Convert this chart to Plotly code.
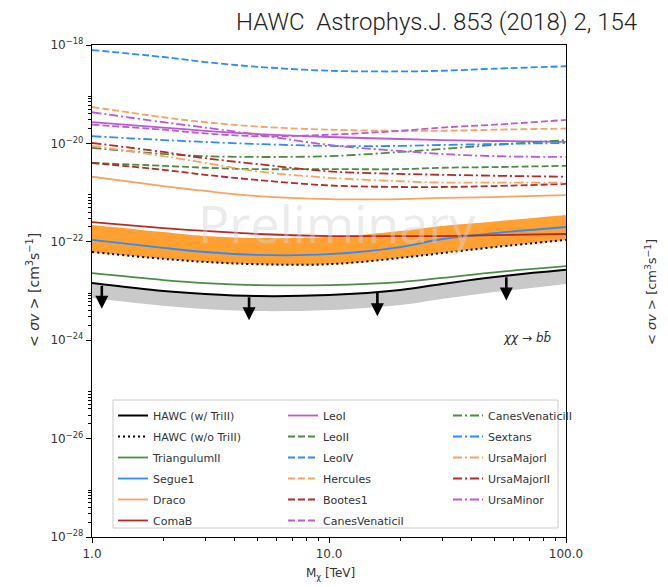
import numpy as np
import plotly.graph_objects as go

# ---------------- data ----------------
mass = [1, 2, 3, 5, 10, 20, 30, 50, 100]  # TeV

hawc_with_trill = [1.45e-23, 1.0e-23, 8.7e-24, 7.9e-24, 8.3e-24, 1.05e-23, 1.39e-23, 1.93e-23, 2.7e-23]
hawc_with_trill_low = [7.2e-24, 5.0e-24, 4.3e-24, 3.9e-24, 4.1e-24, 5.2e-24, 6.9e-24, 9.5e-24, 1.39e-23]
hawc_without_trill = [6.2e-23, 4.5e-23, 3.9e-23, 3.5e-23, 3.5e-23, 4.7e-23, 5.9e-23, 7.8e-23, 1.09e-22]
hawc_without_trill_high = [2.2e-22, 1.58e-22, 1.31e-22, 1.19e-22, 1.25e-22, 1.66e-22, 2.1e-22, 2.6e-22, 3.5e-22]
triangulum_ii = [2.3e-23, 1.67e-23, 1.45e-23, 1.32e-23, 1.32e-23, 1.52e-23, 1.84e-23, 2.4e-23, 3.2e-23]
segue_1 = [1.09e-22, 7.5e-23, 6.2e-23, 5.4e-23, 5.6e-23, 7.8e-23, 1.14e-22, 1.5e-22, 2.0e-22]
draco = [2.1e-21, 1.36e-21, 1.08e-21, 8.5e-22, 7.4e-22, 7.4e-22, 7.8e-22, 8.1e-22, 8.9e-22]
coma_b = [2.5e-22, 1.9e-22, 1.66e-22, 1.44e-22, 1.31e-22, 1.31e-22, 1.31e-22, 1.37e-22, 1.44e-22]
leo_i = [2.7e-20, 2.1e-20, 1.8e-20, 1.55e-20, 1.35e-20, 1.23e-20, 1.17e-20, 1.12e-20, 1.07e-20]
leo_ii = [4.0e-21, 3.5e-21, 3.2e-21, 3.0e-21, 3.0e-21, 3.0e-21, 3.2e-21, 3.3e-21, 3.5e-21]
leo_iv = [7.9e-19, 5.7e-19, 4.5e-19, 3.6e-19, 3.0e-19, 2.9e-19, 3.0e-19, 3.3e-19, 3.7e-19]
hercules = [5.5e-20, 3.4e-20, 2.7e-20, 2.2e-20, 1.9e-20, 1.8e-20, 1.8e-20, 1.9e-20, 2.0e-20]
bootes_1 = [4.0e-21, 2.9e-21, 2.3e-21, 1.8e-21, 1.4e-21, 1.3e-21, 1.3e-21, 1.36e-21, 1.5e-21]
canes_venatici_i = [2.4e-20, 1.9e-20, 1.6e-20, 1.4e-20, 1.5e-20, 1.8e-20, 2.1e-20, 2.4e-20, 3.0e-20]
canes_venatici_ii = [8.1e-21, 6.1e-21, 5.5e-21, 5.3e-21, 5.5e-21, 6.7e-21, 7.7e-21, 9.3e-21, 1.17e-20]
sextans = [1.4e-20, 1.17e-20, 1.07e-20, 9.7e-21, 8.9e-21, 8.9e-21, 9.3e-21, 9.7e-21, 1.02e-20]
ursa_major_i = [8.9e-21, 5.5e-21, 4.0e-21, 2.7e-21, 2.0e-21, 1.7e-21, 1.6e-21, 1.6e-21, 1.6e-21]
ursa_major_ii = [1.02e-20, 6.7e-21, 5.0e-21, 3.8e-21, 2.7e-21, 2.4e-21, 2.3e-21, 2.2e-21, 2.1e-21]
ursa_minor = [4.3e-20, 2.7e-20, 2.1e-20, 1.5e-20, 9.3e-21, 7.0e-21, 6.1e-21, 5.5e-21, 5.3e-21]

arrow_mass = [1.1, 4.6, 16, 56]

x_tick_vals = [1, 10, 100]
x_tick_text = ["1.0", "10.0", "100.0"]
y_tick_exponents = [-18, -20, -22, -24, -26, -28]

# ---------------- styles ----------------
BLACK = "#000000"
GREEN = "#4f8a47"
BLUE = "#2a8cff"
ORANGE = "#f5a463"
RED = "#b52a26"
VIOLET = "#bb5ad6"

DASH = "7px,3px"
DASHDOT = "9px,3px,2px,3px"
DOT = "2px,3px"

FONT = "DejaVu Sans, Liberation Sans, sans-serif"

fig = go.Figure()

# gray uncertainty band below HAWC (w/ TriII)
fig.add_trace(go.Scatter(x=mass, y=hawc_with_trill, mode="lines", line=dict(width=0, shape="spline"),
                         showlegend=False, hoverinfo="skip"))
fig.add_trace(go.Scatter(x=mass, y=hawc_with_trill_low, mode="lines", line=dict(width=0, shape="spline"),
                         fill="tonexty", fillcolor="#c9c9c9", showlegend=False, hoverinfo="skip"))
# orange band above HAWC (w/o TriII)
fig.add_trace(go.Scatter(x=mass, y=hawc_without_trill_high, mode="lines", line=dict(width=0, shape="spline"),
                         showlegend=False, hoverinfo="skip"))
fig.add_trace(go.Scatter(x=mass, y=hawc_without_trill, mode="lines", line=dict(width=0, shape="spline"),
                         fill="tonexty", fillcolor="#ffa030", showlegend=False, hoverinfo="skip"))

# (name, data, color, dash, legend, rank)
series = [
    ("TriangulumII", triangulum_ii, GREEN, "solid", "legend", 3),
    ("Segue1", segue_1, BLUE, "solid", "legend", 4),
    ("Draco", draco, ORANGE, "solid", "legend", 5),
    ("ComaB", coma_b, RED, "solid", "legend", 6),
    ("LeoI", leo_i, VIOLET, "solid", "legend2", 1),
    ("LeoII", leo_ii, GREEN, DASH, "legend2", 2),
    ("LeoIV", leo_iv, BLUE, DASH, "legend2", 3),
    ("Hercules", hercules, ORANGE, DASH, "legend2", 4),
    ("Bootes1", bootes_1, RED, DASH, "legend2", 5),
    ("CanesVenaticiI", canes_venatici_i, VIOLET, DASH, "legend2", 6),
    ("CanesVenaticiII", canes_venatici_ii, GREEN, DASHDOT, "legend3", 1),
    ("Sextans", sextans, BLUE, DASHDOT, "legend3", 2),
    ("UrsaMajorI", ursa_major_i, ORANGE, DASHDOT, "legend3", 3),
    ("UrsaMajorII", ursa_major_ii, RED, DASHDOT, "legend3", 4),
    ("UrsaMinor", ursa_minor, VIOLET, DASHDOT, "legend3", 5),
]

for name, vals, col, dash, leg, rank in series:
    fig.add_trace(go.Scatter(x=mass, y=vals, mode="lines", name=name,
                             line=dict(color=col, width=1.8, dash=dash, shape="spline"),
                             legend=leg, legendgroup=name, legendrank=rank))

fig.add_trace(go.Scatter(x=mass, y=hawc_without_trill, mode="lines", name="HAWC (w/o TriII)",
                         line=dict(color=BLACK, width=2, dash=DOT, shape="spline"),
                         legend="legend", legendgroup="hawc2", legendrank=2))
fig.add_trace(go.Scatter(x=mass, y=hawc_with_trill, mode="lines", name="HAWC (w/ TriII)",
                         line=dict(color=BLACK, width=2, shape="spline"),
                         legend="legend", legendgroup="hawc1", legendrank=1))

# arrows (upper limits) starting on the HAWC (w/ TriII) curve
lm = np.log10(mass)
lh = np.log10(hawc_with_trill)
annotations = []
for m in arrow_mass:
    lx = np.log10(m)
    start = float(np.interp(lx, lm, lh))
    annotations.append(dict(x=lx, y=start - 0.5, ax=lx, ay=start, xref="x", yref="y",
                            axref="x", ayref="y", text="", showarrow=True, arrowhead=2,
                            arrowsize=1.0, arrowwidth=2.6, arrowcolor=BLACK, standoff=0,
                            startstandoff=0))

# layout geometry helpers (pixel -> paper)
L, R, T, B = 92, 102, 45, 50
W, H = 668, 587
PW, PH = W - L - R, H - T - B


def px(x):
    return (x - L) / PW


def py(y):
    return (H - B - y) / PH


annotations += [
    dict(text="HAWC\u00a0 Astrophys.J. 853 (2018) 2, 154", x=px(436), y=py(22), xref="paper", yref="paper",
         showarrow=False, xanchor="center", yanchor="middle",
         font=dict(family="Roboto, Liberation Sans, sans-serif", size=24, weight=300, color="#222222")),
    dict(text="Preliminary", x=px(337), y=py(222), xref="paper", yref="paper", showarrow=False,
         xanchor="center", yanchor="middle", opacity=0.45,
         font=dict(family="Open Sans, DejaVu Sans, sans-serif", size=52, color="#d4d4d4")),
    dict(text="<i>χχ</i> → <i>b</i><i>b\u0304</i>", x=px(527), y=py(338), xref="paper", yref="paper",
         showarrow=False, xanchor="center", yanchor="middle",
         font=dict(family=FONT, size=12, color="#333333")),
    dict(text="< <i>σv</i> > [cm<sup>3</sup>s<sup>−1</sup>]", x=px(33), y=py(290), xref="paper", yref="paper",
         showarrow=False, textangle=-90, xanchor="center", yanchor="middle",
         font=dict(family=FONT, size=14, color="#333333")),
    dict(text="< <i>σv</i> > [cm<sup>3</sup>s<sup>−1</sup>]", x=px(651), y=py(292), xref="paper", yref="paper",
         showarrow=False, textangle=-90, xanchor="center", yanchor="middle",
         font=dict(family=FONT, size=13, color="#333333")),
    dict(text="M<sub>χ</sub> [TeV]", x=px(330), y=py(574), xref="paper", yref="paper",
         showarrow=False, xanchor="center", yanchor="middle",
         font=dict(family=FONT, size=12, color="#333333")),
]

# legend frame
shapes = [dict(type="rect", xref="paper", yref="paper", x0=px(113), x1=px(558), y0=py(528), y1=py(400),
               line=dict(color="#cccccc", width=1), fillcolor="rgba(255,255,255,0.8)", layer="below")]

leg_common = dict(yanchor="top", xanchor="left", bgcolor="rgba(0,0,0,0)", borderwidth=0,
                  font=dict(family=FONT, size=11, color="#333333"), traceorder="grouped",
                  tracegroupgap=2, itemwidth=30)

y_minor = [k * 10.0 ** e for e in range(-28, -18, 2) for k in range(2, 10)]
x_minor = [k * 10.0 ** e for e in range(0, 2) for k in range(2, 10)]

fig.update_layout(
    width=W, height=H,
    margin=dict(l=L, r=R, t=T, b=B, pad=0),
    paper_bgcolor="white", plot_bgcolor="white",
    annotations=annotations, shapes=shapes,
    legend=dict(x=px(113), y=py(401), **leg_common),
    legend2=dict(x=px(283), y=py(401), **leg_common),
    legend3=dict(x=px(448), y=py(401), **leg_common),
    xaxis=dict(type="log", range=[0, 2], tickvals=x_tick_vals, ticktext=x_tick_text,
               ticks="outside", ticklen=5, tickwidth=1.2, tickcolor="black",
               showline=True, linecolor="black", linewidth=1.4, mirror=True, showgrid=False,
               zeroline=False, tickfont=dict(family=FONT, size=12, color="#333333"),
               minor=dict(tickvals=x_minor, ticks="outside", ticklen=3, tickwidth=1, tickcolor="black",
                          showgrid=False)),
    yaxis=dict(type="log", range=[-28, -18],
               tickvals=[10.0 ** e for e in y_tick_exponents],
               ticktext=[f"10<sup>−{abs(e)}</sup>" for e in y_tick_exponents],
               ticks="outside", ticklen=5, tickwidth=1.2, tickcolor="black",
               showline=True, linecolor="black", linewidth=1.4, mirror=True, showgrid=False,
               zeroline=False, tickfont=dict(family=FONT, size=12, color="#333333"),
               minor=dict(tickvals=y_minor, ticks="outside", ticklen=3, tickwidth=1, tickcolor="black",
                          showgrid=False)),
)

fig.write_html("out.html")
